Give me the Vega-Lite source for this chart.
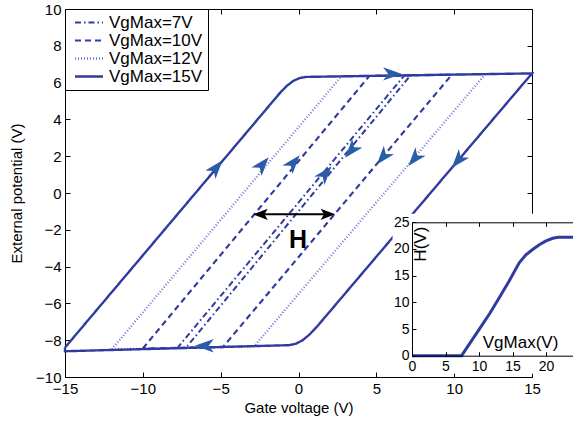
{
  "$schema": "https://vega.github.io/schema/vega-lite/v6.json",
  "width": 467,
  "height": 368,
  "autosize": {"type": "none"},
  "padding": {"left": 65, "top": 9, "right": 41, "bottom": 44},
  "background": "white",
  "config": {
    "view": {"stroke": null},
    "font": "Liberation Sans",
    "axis": {"domainColor": "black", "tickColor": "black", "labelColor": "black", "titleColor": "black", "grid": false, "labelFont": "Liberation Sans", "titleFont": "Liberation Sans", "titleFontWeight": "normal", "domainWidth": 1, "tickWidth": 1, "labelFlush": false, "labelOverlap": false},
    "legend": {"orient": "top-left", "offset": 0, "padding": 5, "strokeColor": "black", "fillColor": "white", "labelFontSize": 17, "labelFont": "Liberation Sans", "labelColor": "black", "symbolType": "M-0.5,0H3.5", "symbolSize": 196, "rowPadding": 0, "labelOffset": 22}
  },
  "datasets": {
    "loops": [
      {"series": "VgMax=7V", "i": 0, "vg": -7.8, "ext": -8.44},
      {"series": "VgMax=7V", "i": 1, "vg": 6.8, "ext": 6.39},
      {"series": "VgMax=7V", "i": 2, "vg": 7.2, "ext": 6.4},
      {"series": "VgMax=7V", "i": 3, "vg": -7.25, "ext": -8.43},
      {"series": "VgMax=7V", "i": 4, "vg": -7.8, "ext": -8.44},
      {"series": "VgMax=10V", "i": 0, "vg": -10, "ext": -8.45},
      {"series": "VgMax=10V", "i": 1, "vg": 4.55, "ext": 6.36},
      {"series": "VgMax=10V", "i": 2, "vg": 9.85, "ext": 6.43},
      {"series": "VgMax=10V", "i": 3, "vg": -4.85, "ext": -8.37},
      {"series": "VgMax=10V", "i": 4, "vg": -10, "ext": -8.45},
      {"series": "VgMax=12V", "i": 0, "vg": -12, "ext": -8.5},
      {"series": "VgMax=12V", "i": 1, "vg": 2.75, "ext": 6.34},
      {"series": "VgMax=12V", "i": 2, "vg": 12, "ext": 6.46},
      {"series": "VgMax=12V", "i": 3, "vg": -2.85, "ext": -8.33},
      {"series": "VgMax=12V", "i": 4, "vg": -12, "ext": -8.5},
      {"series": "VgMax=15V", "i": 0, "vg": -15, "ext": -8.4},
      {"series": "VgMax=15V", "i": 1, "vg": -1.2, "ext": 5.43},
      {"series": "VgMax=15V", "i": 2, "vg": -0.77, "ext": 5.81},
      {"series": "VgMax=15V", "i": 3, "vg": -0.34, "ext": 6.09},
      {"series": "VgMax=15V", "i": 4, "vg": 0.08, "ext": 6.25},
      {"series": "VgMax=15V", "i": 5, "vg": 0.5, "ext": 6.31},
      {"series": "VgMax=15V", "i": 6, "vg": 15, "ext": 6.5},
      {"series": "VgMax=15V", "i": 7, "vg": 1.2, "ext": -7.25},
      {"series": "VgMax=15V", "i": 8, "vg": 0.71, "ext": -7.69},
      {"series": "VgMax=15V", "i": 9, "vg": 0.25, "ext": -8.01},
      {"series": "VgMax=15V", "i": 10, "vg": -0.19, "ext": -8.2},
      {"series": "VgMax=15V", "i": 11, "vg": -0.6, "ext": -8.27},
      {"series": "VgMax=15V", "i": 12, "vg": -15, "ext": -8.6},
      {"series": "VgMax=15V", "i": 13, "vg": -15, "ext": -8.4}
    ],
    "arrows": [
      {"vg": -5.3, "ext": 1.35, "dir": "up"},
      {"vg": -2.34, "ext": 1.52, "dir": "up"},
      {"vg": -0.35, "ext": 1.63, "dir": "up"},
      {"vg": 1.7, "ext": 1.03, "dir": "up"},
      {"vg": 3.42, "ext": 2.34, "dir": "down"},
      {"vg": 5.45, "ext": 1.97, "dir": "down"},
      {"vg": 7.48, "ext": 1.89, "dir": "down"},
      {"vg": 10.27, "ext": 1.79, "dir": "down"},
      {"vg": 5.99, "ext": 6.47, "dir": "right"},
      {"vg": -6.0, "ext": -8.3, "dir": "left"}
    ],
    "hheads": [
      {"vg": -2.39, "ext": -1.16, "dir": "left"},
      {"vg": 1.84, "ext": -1.16, "dir": "right"}
    ],
    "hspan": [
      {"from": -2.39, "to": 1.84, "ext": -1.16}
    ],
    "inset": [
      {"vgmax": 0, "h": 0},
      {"vgmax": 7.4, "h": 0},
      {"vgmax": 9, "h": 3.0},
      {"vgmax": 10, "h": 4.9},
      {"vgmax": 11.6, "h": 7.9},
      {"vgmax": 13, "h": 10.8},
      {"vgmax": 14.5, "h": 14.0},
      {"vgmax": 16, "h": 17.4},
      {"vgmax": 17, "h": 18.9},
      {"vgmax": 18, "h": 19.9},
      {"vgmax": 19, "h": 20.8},
      {"vgmax": 20, "h": 21.5},
      {"vgmax": 21, "h": 22.0},
      {"vgmax": 21.8, "h": 22.2},
      {"vgmax": 25, "h": 22.2}
    ]
  },
  "resolve": {"scale": {"x": "independent", "y": "independent"}, "axis": {"x": "independent", "y": "independent"}},
  "layer": [
    {
      "data": {"name": "loops"},
      "transform": [{"filter": "datum.series !== 'VgMax=15V'"}],
      "mark": {"type": "line", "strokeCap": "butt"},
      "encoding": {
        "x": {"field": "vg", "type": "quantitative", "scale": {"domain": [-15, 15], "nice": false, "zero": false},
          "axis": {"orient": "bottom", "values": [-15, -10, -5, 0, 5, 10, 15], "tickSize": -5, "labelPadding": 9, "labelFontSize": 15, "title": "Gate voltage (V)", "titleFontSize": 15, "titlePadding": 4, "format": "d"}},
        "y": {"field": "ext", "type": "quantitative", "scale": {"domain": [-10, 10], "nice": false, "zero": false},
          "axis": {"orient": "left", "values": [-10, -8, -6, -4, -2, 0, 2, 4, 6, 8, 10], "tickSize": -5, "labelPadding": 9, "labelFontSize": 15, "title": "External potential (V)", "titleFontSize": 15, "titlePadding": 11, "format": "d"}},
        "order": {"field": "i", "type": "quantitative"},
        "color": {"field": "series", "type": "nominal", "scale": {"domain": ["VgMax=7V", "VgMax=10V", "VgMax=12V", "VgMax=15V"], "range": ["#2F3B9E", "#2F3B9E", "#6E78D2", "#2F3B9E"]}, "legend": {"title": null}},
        "strokeDash": {"field": "series", "type": "nominal", "scale": {"domain": ["VgMax=7V", "VgMax=10V", "VgMax=12V", "VgMax=15V"], "range": [[6, 3, 1.5, 3], [6, 4], [1, 2], [1, 0]]}, "legend": {"title": null}},
        "strokeWidth": {"field": "series", "type": "nominal", "scale": {"domain": ["VgMax=7V", "VgMax=10V", "VgMax=12V", "VgMax=15V"], "range": [2, 2.4, 1.2, 2]}, "legend": {"title": null}}
      }
    },
    {
      "data": {"name": "loops"},
      "transform": [{"filter": "datum.series === 'VgMax=15V'"}],
      "mark": {"type": "line", "strokeCap": "butt"},
      "encoding": {
        "x": {"field": "vg", "type": "quantitative", "scale": {"domain": [-15, 15], "nice": false, "zero": false}, "axis": null},
        "y": {"field": "ext", "type": "quantitative", "scale": {"domain": [-10, 10], "nice": false, "zero": false}, "axis": null},
        "order": {"field": "i", "type": "quantitative"},
        "color": {"field": "series", "type": "nominal", "scale": {"domain": ["VgMax=7V", "VgMax=10V", "VgMax=12V", "VgMax=15V"], "range": ["#2F3B9E", "#2F3B9E", "#6E78D2", "#2F3B9E"]}, "legend": {"title": null}},
        "strokeDash": {"field": "series", "type": "nominal", "scale": {"domain": ["VgMax=7V", "VgMax=10V", "VgMax=12V", "VgMax=15V"], "range": [[6, 3, 1.5, 3], [6, 4], [1, 2], [1, 0]]}, "legend": {"title": null}},
        "strokeWidth": {"field": "series", "type": "nominal", "scale": {"domain": ["VgMax=7V", "VgMax=10V", "VgMax=12V", "VgMax=15V"], "range": [2, 2.4, 1.2, 2]}, "legend": {"title": null}}
      }
    },
    {
      "data": {"name": "arrows"},
      "transform": [{"filter": "datum.dir === 'up'"}],
      "mark": {"type": "point", "filled": true, "size": 420, "shape": "M0,-1L0.65,0.85L0,0.35L-0.65,0.85Z", "color": "#2B5CA8", "opacity": 1, "strokeWidth": 0, "angle": 40},
      "encoding": {
        "x": {"field": "vg", "type": "quantitative", "scale": {"domain": [-15, 15], "nice": false, "zero": false},
          "axis": {"orient": "top", "values": [-15, -10, -5, 0, 5, 10, 15], "tickSize": -5, "labels": false, "title": null}},
        "y": {"field": "ext", "type": "quantitative", "scale": {"domain": [-10, 10], "nice": false, "zero": false},
          "axis": {"orient": "right", "values": [-10, -8, -6, -4, -2, 0, 2, 4, 6, 8, 10], "tickSize": -5, "labels": false, "title": null}}
      }
    },
    {
      "data": {"name": "arrows"},
      "transform": [{"filter": "datum.dir === 'down'"}],
      "mark": {"type": "point", "filled": true, "size": 420, "shape": "M0,-1L0.65,0.85L0,0.35L-0.65,0.85Z", "color": "#2B5CA8", "opacity": 1, "strokeWidth": 0, "angle": 220},
      "encoding": {
        "x": {"field": "vg", "type": "quantitative", "scale": {"domain": [-15, 15], "nice": false, "zero": false}, "axis": null},
        "y": {"field": "ext", "type": "quantitative", "scale": {"domain": [-10, 10], "nice": false, "zero": false}, "axis": null}
      }
    },
    {
      "data": {"name": "arrows"},
      "transform": [{"filter": "datum.dir === 'right'"}],
      "mark": {"type": "point", "filled": true, "size": 420, "shape": "M0,-1L0.65,0.85L0,0.35L-0.65,0.85Z", "color": "#2B5CA8", "opacity": 1, "strokeWidth": 0, "angle": 90},
      "encoding": {
        "x": {"field": "vg", "type": "quantitative", "scale": {"domain": [-15, 15], "nice": false, "zero": false}, "axis": null},
        "y": {"field": "ext", "type": "quantitative", "scale": {"domain": [-10, 10], "nice": false, "zero": false}, "axis": null}
      }
    },
    {
      "data": {"name": "arrows"},
      "transform": [{"filter": "datum.dir === 'left'"}],
      "mark": {"type": "point", "filled": true, "size": 420, "shape": "M0,-1L0.65,0.85L0,0.35L-0.65,0.85Z", "color": "#2B5CA8", "opacity": 1, "strokeWidth": 0, "angle": 270},
      "encoding": {
        "x": {"field": "vg", "type": "quantitative", "scale": {"domain": [-15, 15], "nice": false, "zero": false}, "axis": null},
        "y": {"field": "ext", "type": "quantitative", "scale": {"domain": [-10, 10], "nice": false, "zero": false}, "axis": null}
      }
    },
    {
      "data": {"name": "hspan"},
      "mark": {"type": "rule", "color": "black", "strokeWidth": 2},
      "encoding": {
        "x": {"field": "from", "type": "quantitative", "scale": {"domain": [-15, 15], "nice": false, "zero": false}, "axis": null},
        "x2": {"field": "to"},
        "y": {"field": "ext", "type": "quantitative", "scale": {"domain": [-10, 10], "nice": false, "zero": false}, "axis": null}
      }
    },
    {
      "data": {"name": "hheads"},
      "transform": [{"filter": "datum.dir === 'left'"}],
      "mark": {"type": "point", "filled": true, "size": 260, "shape": "M0,-1L0.7,0.8L0,0.4L-0.7,0.8Z", "color": "black", "opacity": 1, "strokeWidth": 0, "angle": 270},
      "encoding": {
        "x": {"field": "vg", "type": "quantitative", "scale": {"domain": [-15, 15], "nice": false, "zero": false}, "axis": null},
        "y": {"field": "ext", "type": "quantitative", "scale": {"domain": [-10, 10], "nice": false, "zero": false}, "axis": null}
      }
    },
    {
      "data": {"name": "hheads"},
      "transform": [{"filter": "datum.dir === 'right'"}],
      "mark": {"type": "point", "filled": true, "size": 260, "shape": "M0,-1L0.7,0.8L0,0.4L-0.7,0.8Z", "color": "black", "opacity": 1, "strokeWidth": 0, "angle": 90},
      "encoding": {
        "x": {"field": "vg", "type": "quantitative", "scale": {"domain": [-15, 15], "nice": false, "zero": false}, "axis": null},
        "y": {"field": "ext", "type": "quantitative", "scale": {"domain": [-10, 10], "nice": false, "zero": false}, "axis": null}
      }
    },
    {
      "data": {"values": [{"label": "H", "vg": -0.03, "ext": -2.55}]},
      "mark": {"type": "text", "font": "Liberation Sans", "fontWeight": "bold", "fontSize": 25, "color": "black", "align": "center", "baseline": "middle"},
      "encoding": {
        "text": {"field": "label"},
        "x": {"field": "vg", "type": "quantitative", "scale": {"domain": [-15, 15], "nice": false, "zero": false}, "axis": null},
        "y": {"field": "ext", "type": "quantitative", "scale": {"domain": [-10, 10], "nice": false, "zero": false}, "axis": null}
      }
    },
    {
      "data": {"values": [{"x0": -2.9, "x1": 25.5, "y0": -3.4, "y1": 26.6}]},
      "mark": {"type": "rect", "fill": "white", "stroke": null},
      "encoding": {
        "x": {"field": "x0", "type": "quantitative", "scale": {"domain": [0, 25], "range": [347, 514.5], "nice": false, "zero": false}, "axis": null},
        "x2": {"field": "x1"},
        "y": {"field": "y0", "type": "quantitative", "scale": {"domain": [0, 25], "range": [346.7, 213.3], "nice": false, "zero": false}, "axis": null},
        "y2": {"field": "y1"}
      }
    },
    {
      "data": {"name": "inset"},
      "mark": {"type": "line", "color": "#2F3B9E", "strokeWidth": 3},
      "encoding": {
        "x": {"field": "vgmax", "type": "quantitative", "scale": {"domain": [0, 25], "range": [347, 514.5], "nice": false, "zero": false},
          "axis": {"orient": "bottom", "offset": -21.3, "values": [0, 5, 10, 15, 20], "tickSize": -4, "labelPadding": 8, "labelFontSize": 14, "title": null, "zindex": 2}},
        "y": {"field": "h", "type": "quantitative", "scale": {"domain": [0, 25], "range": [346.7, 213.3], "nice": false, "zero": false},
          "axis": {"orient": "left", "offset": -347, "values": [0, 5, 10, 15, 20, 25], "tickSize": -4, "labelPadding": 7, "labelFontSize": 14, "title": null, "zindex": 2}}
      }
    },
    {
      "data": {"values": [{"label": "VgMax(V)", "vgmax": 16.2, "h": 2.4}]},
      "mark": {"type": "text", "font": "Liberation Sans", "fontSize": 17, "color": "black", "align": "center", "baseline": "middle"},
      "encoding": {
        "text": {"field": "label"},
        "x": {"field": "vgmax", "type": "quantitative", "scale": {"domain": [0, 25], "range": [347, 514.5], "nice": false, "zero": false},
          "axis": {"orient": "top", "offset": -213.3, "values": [5, 10, 15, 20], "tickSize": -4, "labels": false, "title": null, "zindex": 2}},
        "y": {"field": "h", "type": "quantitative", "scale": {"domain": [0, 25], "range": [346.7, 213.3], "nice": false, "zero": false}, "axis": null}
      }
    },
    {
      "data": {"values": [{"label": "H(V)", "vgmax": 1.32, "h": 20.9}]},
      "mark": {"type": "text", "font": "Liberation Sans", "fontSize": 17, "color": "black", "align": "center", "baseline": "middle", "angle": 270},
      "encoding": {
        "text": {"field": "label"},
        "x": {"field": "vgmax", "type": "quantitative", "scale": {"domain": [0, 25], "range": [347, 514.5], "nice": false, "zero": false}, "axis": null},
        "y": {"field": "h", "type": "quantitative", "scale": {"domain": [0, 25], "range": [346.7, 213.3], "nice": false, "zero": false}, "axis": null}
      }
    }
  ]
}
